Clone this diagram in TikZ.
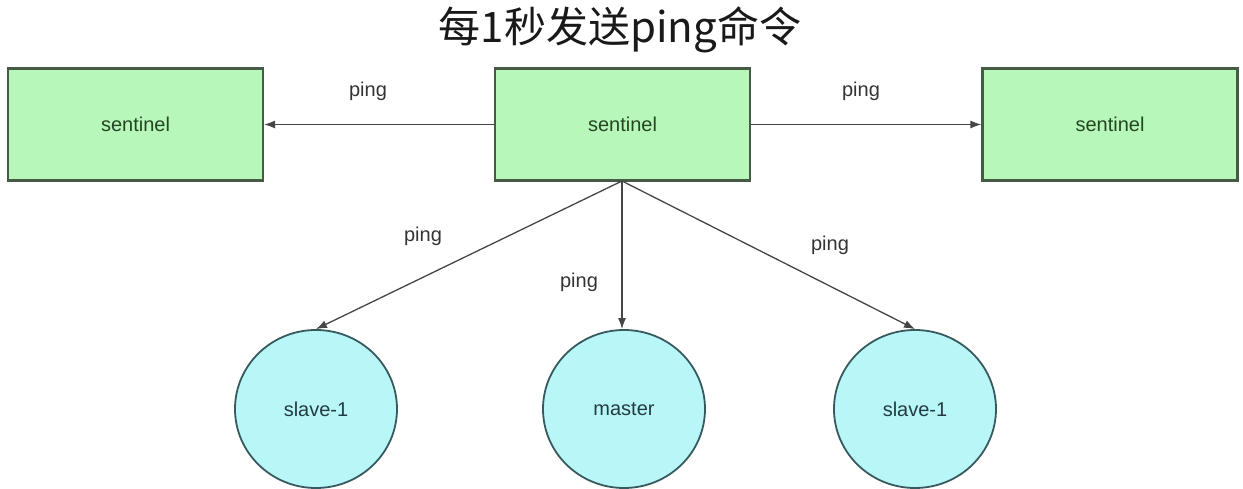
\documentclass[tikz,border=0pt]{standalone}
\usepackage{fontspec}
\setmainfont{Liberation Sans}
\newfontfamily\cjk{Noto Sans CJK SC}
\usetikzlibrary{shapes.geometric,arrows.meta}
\definecolor{boxfill}{RGB}{184,247,186}
\definecolor{boxline}{RGB}{70,90,70}
\definecolor{boxtext}{RGB}{35,70,35}
\definecolor{ellfill}{RGB}{184,246,248}
\definecolor{ellline}{RGB}{55,90,95}
\definecolor{elltext}{RGB}{35,60,65}
\definecolor{arrowc}{RGB}{70,70,70}
\begin{document}
\begin{tikzpicture}[x=1pt,y=-1pt,
  sentbox/.style={draw=boxline,line width=2.2pt,fill=boxfill,minimum width=255pt,minimum height=112pt,inner sep=0pt,text=boxtext,font=\fontsize{20}{24}\selectfont},
  nodeell/.style={ellipse,draw=ellline,line width=1.8pt,fill=ellfill,minimum width=162pt,minimum height=158pt,inner sep=0pt,text=elltext,font=\fontsize{20}{24}\selectfont},
  conn/.style={draw=arrowc,line width=1.3pt,-{Latex[length=11pt,width=8pt]}},
  lbl/.style={text=black!80,font=\fontsize{20}{24}\selectfont,inner sep=0pt}]
\useasboundingbox (0,0) rectangle (1243,489);
\node[font=\cjk\fontsize{42}{48}\selectfont,text=black!90] (title) at (620,30) {每1秒发送ping命令};
\node[sentbox] (sl) at (135.5,124.5) {sentinel};
\node[sentbox] (sc) at (622.5,124.5) {sentinel};
\node[sentbox] (sr) at (1110,124.5) {sentinel};
\node[nodeell] (e1) at (316,409) {slave-1};
\node[nodeell] (em) at (624,409) {master};
\node[nodeell] (e2) at (915,409) {slave-1};
\coordinate (src) at (622,181);
\draw[conn] (sc.west) -- (sl.east);
\draw[conn] (sc.east) -- (sr.east -| sr.west);
\draw[conn] (src) -- (e1.north);
\draw[conn] (src) -- (em.north -| src);
\draw[conn] (src) -- (e2.north);
\node[lbl] (l1) at (368,91) {ping};
\node[lbl] (l2) at (861,91) {ping};
\node[lbl] (l3) at (423,236) {ping};
\node[lbl] (l4) at (579,282) {ping};
\node[lbl] (l5) at (830,245) {ping};
\end{tikzpicture}
\end{document}
